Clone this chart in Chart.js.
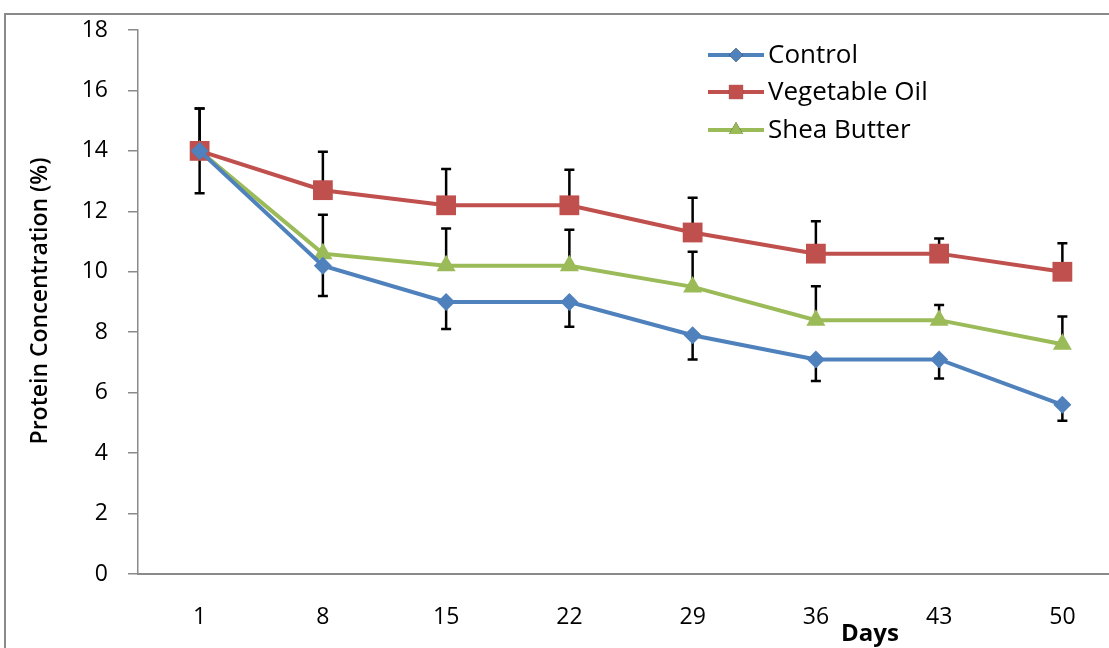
<!DOCTYPE html>
<html>
<head>
<meta charset="utf-8">
<script src="https://cdn.jsdelivr.net/npm/chart.js@4/dist/chart.umd.min.js"></script>
<style>
    html, body { margin: 0; padding: 0; background: #fff; overflow: hidden; }
    #chart { display: block; }
</style>
</head>
<body>
<canvas id="chart" width="1124" height="648"></canvas>
<script>
const days = ['1', '8', '15', '22', '29', '36', '43', '50'];

const control = [14, 10.2, 9.0, 9.0, 7.9, 7.1, 7.1, 5.6];
const vegetableOil = [14, 12.7, 12.2, 12.2, 11.3, 10.6, 10.6, 10.0];
const sheaButter = [14, 10.6, 10.2, 10.2, 9.5, 8.4, 8.4, 7.6];

// error bar lengths (control shows minus side, the others plus side)
const controlErr = [1.4, 1.0, 0.89, 0.82, 0.8, 0.71, 0.63, 0.53];
const vegetableOilErr = [1.4, 1.27, 1.2, 1.18, 1.15, 1.07, 0.5, 0.94];
const sheaButterErr = [1.4, 1.29, 1.23, 1.19, 1.16, 1.12, 0.5, 0.92];

const yTicks = [0, 2, 4, 6, 8, 10, 12, 14, 16, 18];

const FONT = "'Open Sans', 'Noto Sans', sans-serif";

const errorBars =
{
    id: 'errorBars',
    beforeDatasetsDraw(chart)
    {
        const ctx = chart.ctx;
        const x = chart.scales.x;
        const y = chart.scales.y;
        ctx.save();
        ctx.strokeStyle = '#000';
        ctx.lineWidth = 2.5;
        chart.data.datasets.forEach((ds) =>
        {
            ds.data.forEach((v, i) =>
            {
                const px = x.getPixelForValue(i);
                const py0 = y.getPixelForValue(v);
                const py1 = y.getPixelForValue(v + ds.errSign * ds.err[i]);
                ctx.beginPath();
                ctx.moveTo(px, py0);
                ctx.lineTo(px, py1);
                ctx.moveTo(px - 5, py1);
                ctx.lineTo(px + 5, py1);
                ctx.stroke();
            });
        });
        ctx.restore();
    }
};

const decor =
{
    id: 'decor',
    afterDraw(chart)
    {
        const ctx = chart.ctx;
        ctx.save();

        // outer frame
        ctx.strokeStyle = '#8a8a8a';
        ctx.lineWidth = 2;
        ctx.beginPath();
        ctx.moveTo(5, 700);
        ctx.lineTo(5, 14);
        ctx.lineTo(1200, 14);
        ctx.stroke();

        // axis titles
        ctx.fillStyle = '#000';
        ctx.font = 'bold 24px ' + FONT;
        ctx.textAlign = 'center';
        ctx.textBaseline = 'middle';
        ctx.fillText('Days', 870, 634);

        ctx.save();
        ctx.translate(40, 301);
        ctx.rotate(-Math.PI / 2);
        ctx.font = '600 23px ' + FONT;
        ctx.fillText('Protein Concentration (%)', 0, 0);
        ctx.restore();

        // legend
        const legendY = [55, 92, 130];
        const legendR = [7, 10, 8];
        chart.data.datasets.forEach((ds, i) =>
        {
            const ly = legendY[i];
            ctx.strokeStyle = ds.borderColor;
            ctx.lineWidth = 4;
            ctx.beginPath();
            ctx.moveTo(708, ly);
            ctx.lineTo(764, ly);
            ctx.stroke();
            Chart.helpers.drawPoint(ctx,
            {
                pointStyle: ds.pointStyle,
                radius: legendR[i],
                borderWidth: 0
            }, 736, ly);
            ctx.fillStyle = ds.borderColor;
            ctx.fill();
            ctx.fillStyle = '#000';
            ctx.font = '26px ' + FONT;
            ctx.textAlign = 'left';
            ctx.fillText(ds.label, 768, ly + 1);
        });

        ctx.restore();
    }
};

new Chart(document.getElementById('chart'),
{
    type: 'line',
    data:
    {
        labels: days,
        datasets:
        [
            {
                label: 'Control',
                data: control,
                err: controlErr,
                errSign: -1,
                borderColor: '#4F81BD',
                backgroundColor: '#4F81BD',
                borderWidth: 4,
                pointStyle: 'rectRot',
                pointRadius: 9,
                pointBorderWidth: 0,
                tension: 0
            },
            {
                label: 'Vegetable Oil',
                data: vegetableOil,
                err: vegetableOilErr,
                errSign: 1,
                borderColor: '#C0504D',
                backgroundColor: '#C0504D',
                borderWidth: 4,
                pointStyle: 'rect',
                pointRadius: 14,
                pointBorderWidth: 0,
                tension: 0
            },
            {
                label: 'Shea Butter',
                data: sheaButter,
                err: sheaButterErr,
                errSign: 1,
                borderColor: '#9BBB59',
                backgroundColor: '#9BBB59',
                borderWidth: 4,
                pointStyle: 'triangle',
                pointRadius: 11,
                pointBorderWidth: 0,
                tension: 0
            }
        ]
    },
    options:
    {
        responsive: false,
        devicePixelRatio: 1,
        animation: false,
        layout: { autoPadding: false, padding: { top: 30, right: 0, bottom: 0, left: 0 } },
        plugins:
        {
            legend: { display: false },
            tooltip: { enabled: false }
        },
        scales:
        {
            x:
            {
                offset: true,
                grid: { display: false, drawTicks: false },
                border: { color: '#8a8a8a', width: 2 },
                ticks: { color: '#000', font: { family: FONT, size: 23 }, padding: 30, maxRotation: 0 },
                afterFit: (s) => { s.height = 74; s.paddingLeft = 0; s.paddingRight = 0; }
            },
            y:
            {
                min: 0,
                max: 18,
                afterBuildTicks: (s) => { s.ticks = yTicks.map((v) => ({ value: v })); },
                grid: { display: true, drawOnChartArea: false, tickLength: 10, color: '#8a8a8a', lineWidth: 1.5 },
                border: { color: '#8a8a8a', width: 1.5 },
                ticks: { color: '#000', font: { family: FONT, size: 23 }, padding: 20 },
                afterFit: (s) => { s.width = 138; s.paddingTop = 0; s.paddingBottom = 0; }
            }
        }
    },
    plugins: [errorBars, decor]
});
</script>
</body>
</html>
